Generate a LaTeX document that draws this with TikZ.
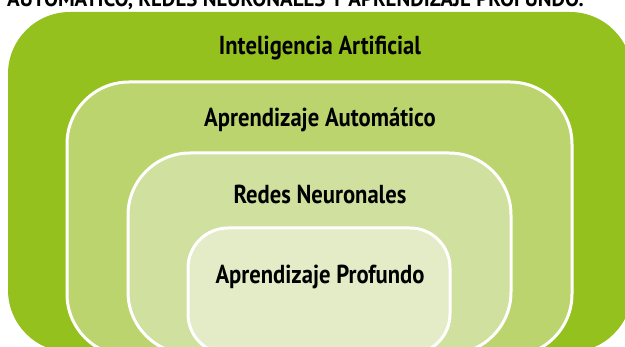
\documentclass[tikz,border=0pt]{standalone}
\usepackage{fontspec}
\newfontfamily\lblfont[FakeStretch=0.87]{PT Sans}
\newfontfamily\ttlfont[FakeStretch=0.95]{PT Sans}
\definecolor{gA}{RGB}{149,193,31}
\definecolor{gB}{RGB}{187,212,110}
\definecolor{gC}{RGB}{208,224,158}
\definecolor{gD}{RGB}{227,236,198}
\tikzset{
  box/.style={draw=white, line width=3pt},
  lbl/.style={font=\lblfont\bfseries\fontsize{26}{30}\selectfont, text=black, anchor=base, inner sep=0pt},
  ttl/.style={font=\ttlfont\bfseries\fontsize{22}{26}\selectfont, text=black, anchor=base west, inner sep=0pt}
}
\begin{document}
\begin{tikzpicture}[x=1pt,y=-1pt]
\useasboundingbox (0,0) rectangle (625,347);
\clip (0,0) rectangle (625,347);
\fill[white] (0,0) rectangle (625,347);
\node[ttl] (title) at (7,7) {AUTOMÁTICO, REDES NEURONALES Y APRENDIZAJE PROFUNDO.};
\fill[gA, rounded corners=62pt] (8,12) rectangle (632,352);
\draw[box, fill=gB, rounded corners=62pt] (67,82) rectangle (572,356);
\draw[box, fill=gC, rounded corners=62pt] (128,153) rectangle (511,354);
\draw[box, fill=gD, rounded corners=40pt] (188,228) rectangle (450,354);
\node[lbl] (ia) at (320,55) {Inteligencia Artificial};
\node[lbl] (aa) at (320,127) {Aprendizaje Automático};
\node[lbl] (rn) at (320,204) {Redes Neuronales};
\node[lbl] (ap) at (320,284) {Aprendizaje Profundo};
\end{tikzpicture}
\end{document}
